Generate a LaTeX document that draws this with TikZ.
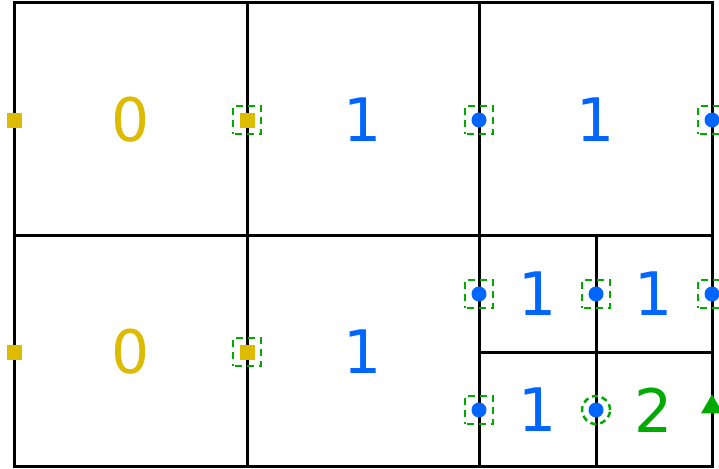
\documentclass[tikz,border=0pt]{standalone}
\usepackage{fontspec}
\setmainfont{DejaVu Sans}
\usetikzlibrary{shapes.geometric}
\definecolor{ylw}{HTML}{DDBB00}
\definecolor{blu}{HTML}{0066FF}
\definecolor{grn}{HTML}{00AA00}
\begin{document}
\begin{tikzpicture}[x=1pt,y=-1pt,
  grid/.style={line width=3pt,black},
  ysq/.style={fill=ylw,draw=none,minimum size=15pt,inner sep=0pt,rectangle},
  bdot/.style={fill=blu,draw=none,circle,minimum size=15pt,inner sep=0pt},
  gbox/.style={draw=grn,line width=2.5pt,dash pattern=on 7pt off 5pt,dash phase=-2pt,rectangle,minimum size=28pt,inner sep=0pt},
  gcirc/.style={draw=grn,line width=2.5pt,dash pattern=on 6pt off 4pt,circle,minimum size=28pt,inner sep=0pt},
  gtri/.style={fill=grn,draw=none,isosceles triangle,isosceles triangle apex angle=60,shape border rotate=90,minimum height=19pt,inner sep=0pt},
  lab/.style={font=\fontsize{60}{60}\selectfont},
]
\useasboundingbox (0,0) rectangle (719,468);
% grid
\draw[grid] (14,3) rectangle (712,466);
\draw[grid] (247,3) -- (247,466);
\draw[grid] (479,3) -- (479,466);
\draw[grid] (14,235) -- (712,235);
\draw[grid] (596,235) -- (596,466);
\draw[grid] (479,352) -- (712,352);
% labels
\node[lab,text=ylw] (l1) at (131,120) {0};
\node[lab,text=blu] (l2) at (363,120) {1};
\node[lab,text=blu] (l3) at (596,120) {1};
\node[lab,text=ylw] (l4) at (131,352) {0};
\node[lab,text=blu] (l5) at (363,352) {1};
\node[lab,text=blu] (l6) at (538,294) {1};
\node[lab,text=blu] (l7) at (654,294) {1};
\node[lab,text=blu] (l8) at (538,410) {1};
\node[lab,text=grn] (l9) at (654,410) {2};
% green dashed boxes
\node[gbox] (g1) at (247,120) {};
\node[gbox] (g2) at (479,120) {};
\node[gbox] (g3) at (712,120) {};
\node[gbox] (g4) at (247,352) {};
\node[gbox] (g5) at (479,294) {};
\node[gbox] (g6) at (596,294) {};
\node[gbox] (g7) at (712,294) {};
\node[gbox] (g8) at (479,410) {};
\node[gcirc] (g9) at (596,410) {};
% markers
\node[ysq] (y1) at (14,120) {};
\node[ysq] (y2) at (247,120) {};
\node[ysq] (y3) at (14,352) {};
\node[ysq] (y4) at (247,352) {};
\node[bdot] (b1) at (479,120) {};
\node[bdot] (b2) at (712,120) {};
\node[bdot] (b3) at (479,294) {};
\node[bdot] (b4) at (596,294) {};
\node[bdot] (b5) at (712,294) {};
\node[bdot] (b6) at (479,410) {};
\node[bdot] (b7) at (596,410) {};
\node[gtri] (t1) at (712,407) {};
\end{tikzpicture}
\end{document}
